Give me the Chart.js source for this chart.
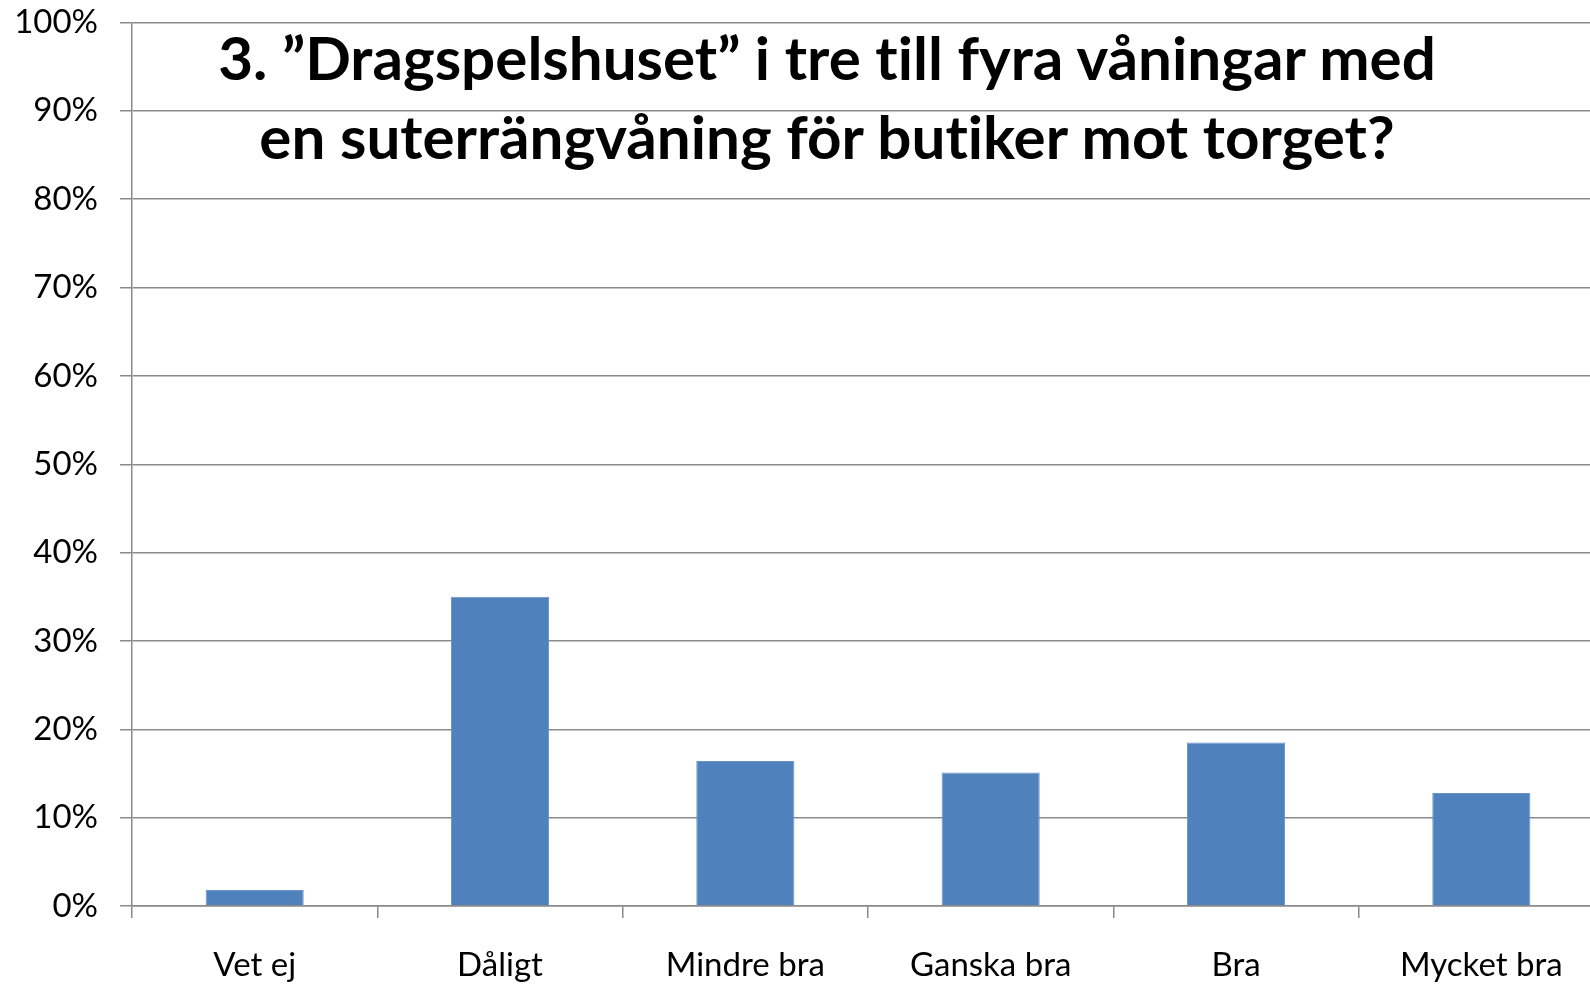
<!DOCTYPE html>
<html><head><meta charset="utf-8">
<script src="https://cdn.jsdelivr.net/npm/chart.js@4.4.1/dist/chart.umd.min.js"></script>
<style>
html,body{margin:0;padding:0;background:#fff;overflow:hidden;}
#wrap{position:relative;width:1610px;height:984px;}
#title{position:absolute;left:0;width:1654px;text-align:center;font-family:Lato;font-weight:bold;color:#000;
  font-variant-ligatures:none;font-feature-settings:"liga" 0,"clig" 0;white-space:nowrap;line-height:79px;}
</style></head><body>
<div id="wrap"><canvas id="c"></canvas><div id="title"></div></div>
<script>
const categories = ["Vet ej", "Dåligt", "Mindre bra", "Ganska bra", "Bra", "Mycket bra"];
const values = [1.8, 35.0, 16.4, 15.1, 18.5, 12.8];
const yTickValues = [0, 10, 20, 30, 40, 50, 60, 70, 80, 90, 100];
const titleLines = ["3. ”Dragspelshuset” i tre till fyra våningar med", "en suterrängvåning för butiker mot torget?"];

const FONT = "Lato";
const GRID = "#8a8a8a";
const tickFont = {family: FONT, size: 33};

// title overlay (real text), sized to the reference width
(function () {
  const el = document.getElementById('title');
  titleLines.forEach((t, i) => {
    const d = document.createElement('div');
    d.textContent = t;
    el.appendChild(d);
  });
  const m = document.createElement('canvas').getContext('2d');
  m.font = "bold 60px " + FONT;
  const w = m.measureText(titleLines[0]).width;
  const size = 60 * 1222 / w;
  m.font = "bold " + size.toFixed(2) + "px " + FONT;
  const mt = m.measureText(titleLines[0]);
  const a = mt.fontBoundingBoxAscent || size * 0.987;
  const dsc = mt.fontBoundingBoxDescent || size * 0.213;
  el.style.fontSize = size.toFixed(2) + "px";
  el.style.top = (80 - ((79 - (a + dsc)) / 2 + a)).toFixed(1) + "px";
})();

new Chart(document.getElementById('c'), {
  type: 'bar',
  data: {
    labels: categories,
    datasets: [{
      data: values,
      backgroundColor: '#4F81BD',
      borderColor: '#6A93C9',
      borderWidth: 1,
      barPercentage: 0.4,
      categoryPercentage: 1.0
    }]
  },
  options: {
    responsive: true,
    maintainAspectRatio: false,
    animation: false,
    layout: {padding: {top: 22.5, right: 6, left: 0, bottom: 0}},
    plugins: {legend: {display: false}, tooltip: {enabled: false}, title: {display: false}},
    scales: {
      x: {
        offset: true,
        grid: {display: true, drawOnChartArea: false, drawTicks: true, tickLength: 12, color: GRID, lineWidth: 1.5, offset: true},
        border: {display: true, color: GRID, width: 1.5},
        ticks: {font: tickFont, color: '#000', padding: 28, maxRotation: 0, autoSkip: false},
        afterFit: s => { s.height = 78; }
      },
      y: {
        min: 0, max: 100,
        afterBuildTicks: s => { s.ticks = yTickValues.map(v => ({value: v})); },
        grid: {color: GRID, lineWidth: 1.5, tickLength: 12, drawTicks: true},
        border: {display: true, color: GRID, width: 1.5},
        ticks: {font: tickFont, color: '#000', padding: 22, callback: v => v + '%'},
        afterFit: s => { s.width = 132; s.paddingTop = 0; s.paddingBottom = 0; }
      }
    }
  }
});
</script>
</body></html>
